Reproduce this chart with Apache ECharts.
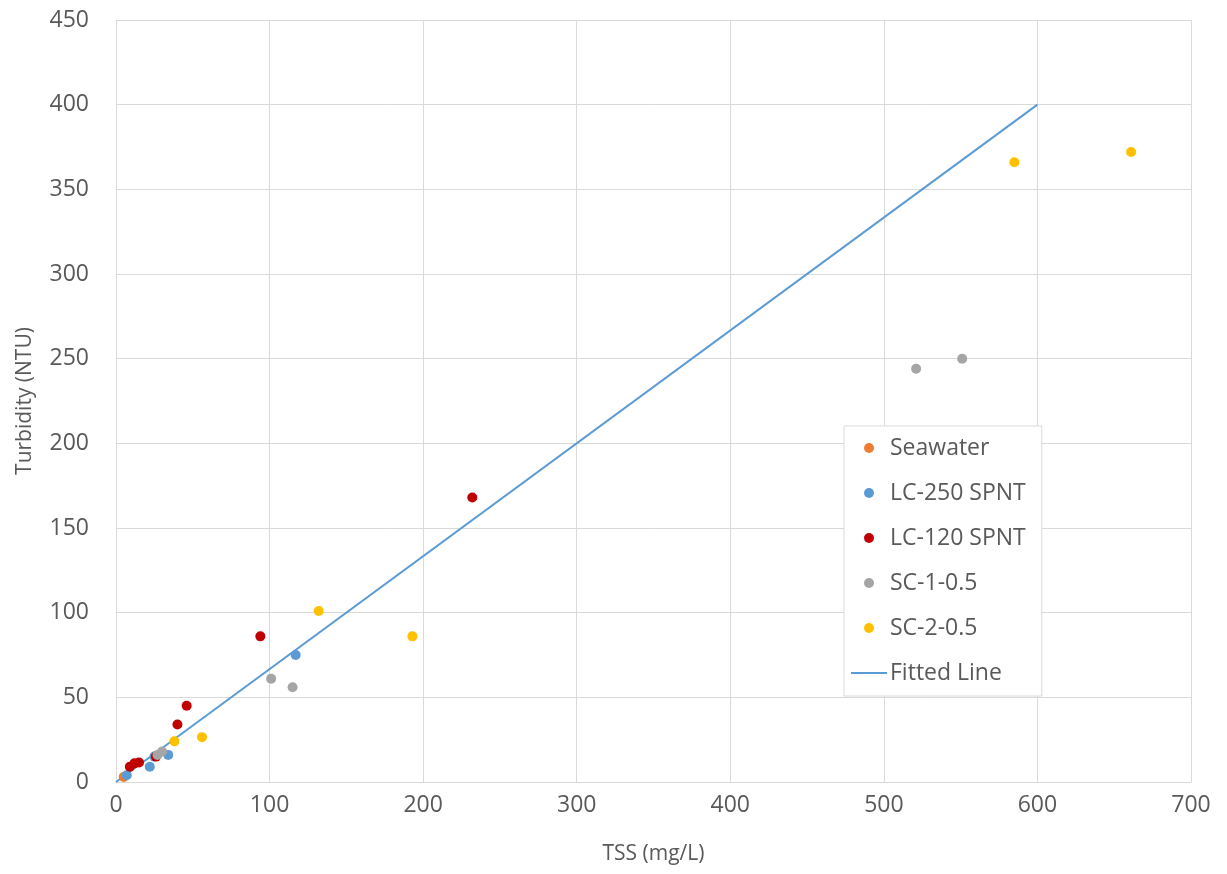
<!DOCTYPE html>
<html>
<head>
<meta charset="utf-8">
<script src="https://cdn.jsdelivr.net/npm/echarts@6/dist/echarts.min.js"></script>
<style>
  html, body { margin: 0; padding: 0; background: #fff; }
  #chart { width: 1227px; height: 874px; }
</style>
</head>
<body>
<div id="chart"></div>
<script>
// 各系列数据 [TSS, Turbidity]
const seawater = [[5, 3]]
const lc250 = [[7, 4], [22, 9], [25, 15], [34, 16], [117, 75]]
const lc120 = [[9, 9], [12, 11], [15, 11.5], [26, 15], [40, 34], [46, 45], [94, 86], [232, 168]]
const sc1 = [[27, 16], [30, 18], [101, 61], [115, 56], [521, 244], [551, 250]]
const sc2 = [[38, 24], [56, 26.5], [132, 101], [193, 86], [585, 366], [661, 372]]
const fitted = [[0, 0], [600, 400]]

const seriesNames = ['Seawater', 'LC-250 SPNT', 'LC-120 SPNT', 'SC-1-0.5', 'SC-2-0.5', 'Fitted Line']
const colors = ['#ED7D31', '#5B9BD5', '#C00000', '#A5A5A5', '#FFC000', '#5B9BD5']

const font = '"Open Sans", "Liberation Sans", sans-serif'
const textColor = '#595959'

const chart = echarts.init(document.getElementById('chart'))

const scatter = (name, data, color) => ({
  name,
  type: 'scatter',
  data,
  symbol: 'circle',
  symbolSize: 10,
  itemStyle: { color, opacity: 1 },
  z: 3,
})

// 图例：散点用圆点，拟合线用细横线
const legendData = seriesNames.map((name, i) =>
  i === 5 ? { name, icon: 'path://M0,0 L36,0 L36,2 L0,2 Z', itemStyle: { color: colors[i] } } : { name, icon: 'circle' }
)

chart.setOption({
  animation: false,
  backgroundColor: '#fff',
  grid: { left: 116, right: 36, top: 20, bottom: 92 },
  legend: {
    orient: 'vertical',
    left: 844,
    top: 426,
    padding: [10, 16, 11, 7],
    itemGap: 21,
    itemWidth: 36,
    itemHeight: 10,
    backgroundColor: '#fff',
    borderColor: '#d9d9d9',
    borderWidth: 1,
    borderRadius: 0,
    textStyle: { fontFamily: font, fontSize: 23, color: textColor, lineHeight: 24, padding: [0, 0, 0, -2] },
    data: legendData,
  },
  xAxis: {
    type: 'value',
    min: 0,
    max: 700,
    interval: 100,
    name: 'TSS (mg/L)',
    nameLocation: 'middle',
    nameGap: 62,
    nameTextStyle: { fontFamily: font, fontSize: 21, color: textColor },
    axisLine: { show: true, lineStyle: { color: '#d9d9d9', width: 1 } },
    axisTick: { show: false },
    axisLabel: { fontFamily: font, fontSize: 23, color: textColor, margin: 12 },
    splitLine: { show: true, lineStyle: { color: '#d9d9d9', width: 1 } },
  },
  yAxis: {
    type: 'value',
    min: 0,
    max: 450,
    interval: 50,
    name: 'Turbidity (NTU)',
    nameLocation: 'middle',
    nameGap: 80,
    nameRotate: 90,
    nameTextStyle: { fontFamily: font, fontSize: 21, color: textColor },
    axisLine: { show: true, lineStyle: { color: '#d9d9d9', width: 1 } },
    axisTick: { show: false },
    axisLabel: { fontFamily: font, fontSize: 23, color: textColor, margin: 27 },
    splitLine: { show: true, lineStyle: { color: '#d9d9d9', width: 1 } },
  },
  series: [
    scatter(seriesNames[0], seawater, colors[0]),
    scatter(seriesNames[1], lc250, colors[1]),
    scatter(seriesNames[2], lc120, colors[2]),
    scatter(seriesNames[3], sc1, colors[3]),
    scatter(seriesNames[4], sc2, colors[4]),
    {
      name: seriesNames[5],
      type: 'line',
      data: fitted,
      symbol: 'none',
      showSymbol: false,
      lineStyle: { color: colors[5], width: 2 },
      itemStyle: { color: colors[5] },
      z: 2,
    },
  ],
})
</script>
</body>
</html>
